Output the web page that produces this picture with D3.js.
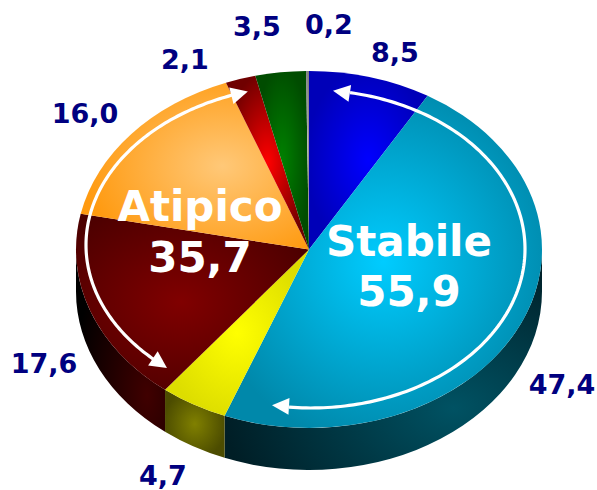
<!DOCTYPE html>
<html><head><meta charset="utf-8">
<script src="https://cdn.jsdelivr.net/npm/d3@7"></script>
<style>html,body{margin:0;padding:0;background:#fff}svg{display:block}text{font-family:"DejaVu Sans",sans-serif;font-weight:bold}</style>
</head><body><svg id="c" width="597" height="490"></svg>
<script>
const sliceValues=[8.5,47.4,4.7,17.6,16.0,2.1,3.5,0.2];
const sliceLabels=["8,5","47,4","4,7","17,6","16,0","2,1","3,5","0,2"];
const groupLabels=["Stabile","Atipico"];
const groupValues=["55,9","35,7"];
const topInner=["#0000ff","#00ccff","#ffff00","#800000","#ffc878","#ff0000","#008000","#c0c0c0"];
const topOuter=["#0000b8","#0088aa","#dddd00","#4c0000","#ff9a10","#700000","#004c00","#808080"];
const sideInner=["#000060","#005263","#808000","#400000","#a06000","#600000","#003000","#505050"];
const sideOuter=["#000020","#001e26","#4c4c00","#000000","#603000","#200000","#001000","#202020"];

const cx=309,cy=249.5,rx=233,ry=178.5,depth=42;
const labelX=[395,562,163,44,85,185,257,329];
const labelY=[52,384,475,363,113,59,26,24];
const svg=d3.select("#c");
const defs=svg.append("defs");
const pie=d3.pie().sort(null).value(d=>d)(sliceValues);
const xAt=a=>cx+rx*Math.sin(a), yAt=(a,h=0)=>cy-ry*Math.cos(a)+h;

function grad(id,inner,outer,fx,fy,r){
  const g=defs.append("radialGradient").attr("id",id).attr("cx",fx).attr("cy",fy).attr("r",r);
  g.append("stop").attr("offset",0).attr("stop-color",inner);
  g.append("stop").attr("offset",.85).attr("stop-color",outer);
}
pie.forEach((p,i)=>{
  grad("t"+i,topInner[i],topOuter[i],i==4?.62:i==3?.45:.5,.5,i==3?.72:i==4?.72:i==1?.66:.62);
  grad("s"+i,sideInner[i],sideOuter[i],i==1?.72:i==3?.8:.5,i==1?.72:i==3?.8:.5,i==1?.85:i==3?1.0:.62);
});

function wall(a0,a1){
  const s=Math.max(a0,Math.PI/2),e=Math.min(a1,3*Math.PI/2);
  if(e<=s) return null;
  const large=(e-s)>Math.PI?1:0;
  return `M${xAt(s)},${yAt(s)}A${rx},${ry} 0 ${large} 1 ${xAt(e)},${yAt(e)}`+
         `L${xAt(e)},${yAt(e,depth)}A${rx},${ry} 0 ${large} 0 ${xAt(s)},${yAt(s,depth)}Z`;
}
function sector(a0,a1){
  const large=(a1-a0)>Math.PI?1:0;
  return `M${cx},${cy}L${xAt(a0)},${yAt(a0)}A${rx},${ry} 0 ${large} 1 ${xAt(a1)},${yAt(a1)}Z`;
}
svg.append("g").selectAll("path").data(pie.filter(p=>wall(p.startAngle,p.endAngle))).join("path")
  .attr("d",p=>wall(p.startAngle,p.endAngle))
  .attr("fill",p=>`url(#s${p.index})`);
svg.append("g").selectAll("path").data(pie).join("path")
  .attr("d",p=>sector(p.startAngle,p.endAngle))
  .attr("fill",p=>`url(#t${p.index})`);

// curved double-headed arrows, drawn along ellipses around the pie
function head(tip,from){
  const t=Math.atan2(tip[1]-from[1],tip[0]-from[0]),L=17,W=8.5;
  const bx=tip[0]-Math.cos(t)*L,by=tip[1]-Math.sin(t)*L;
  svg.append("path").attr("fill","#fff").attr("d",d3.line()([tip,
    [bx-Math.sin(t)*W,by+Math.cos(t)*W],[bx+Math.sin(t)*W,by-Math.cos(t)*W]])+"Z");
}
function arrow(ecx,ecy,erx,ery,a0,a1){
  const n=160,pts=d3.range(n+1).map(i=>{const a=a0+(a1-a0)*i/n;return[ecx+erx*Math.sin(a),ecy-ery*Math.cos(a)];});
  const far=(p,q)=>Math.hypot(p[0]-q[0],p[1]-q[1])>13;
  const shaft=pts.filter(p=>far(p,pts[0])&&far(p,pts[n]));
  svg.append("path").attr("d",d3.line()(shaft)).attr("fill","none").attr("stroke","#fff").attr("stroke-width",3.2);
  head(pts[n],pts[n-10]);
  head(pts[0],pts[10]);
}
const rad=d=>d*Math.PI/180;
arrow(311,249,214,159,rad(190.5),rad(5.9));
arrow(311,245,225,160,rad(219.8),rad(343.7));

svg.append("g").selectAll("text").data(sliceLabels).join("text")
  .attr("x",(d,i)=>labelX[i]).attr("y",(d,i)=>labelY[i]).attr("dy",".36em")
  .attr("text-anchor","middle").attr("font-size",27).attr("fill","#000080").text(d=>d);

const bigX=[409,200],nameY=[241,206],valY=[291,257];
svg.append("g").selectAll("text").data(groupLabels).join("text")
  .attr("x",(d,i)=>bigX[i]).attr("y",(d,i)=>nameY[i]).attr("dy",".36em")
  .attr("text-anchor","middle").attr("font-size",42).attr("fill","#fff").text(d=>d);
svg.append("g").selectAll("text").data(groupValues).join("text")
  .attr("x",(d,i)=>bigX[i]).attr("y",(d,i)=>valY[i]).attr("dy",".36em")
  .attr("text-anchor","middle").attr("font-size",42).attr("fill","#fff").text(d=>d);
</script></body></html>
